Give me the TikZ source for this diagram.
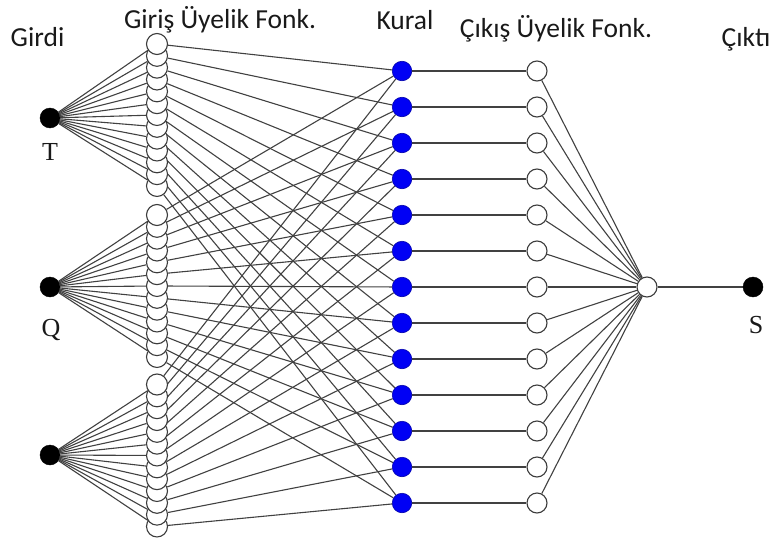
\documentclass[tikz,border=0pt]{standalone}
\usepackage{fontspec}
\setmainfont{Liberation Serif}
\newfontfamily\hdfont{Carlito}
\usetikzlibrary{backgrounds}
\definecolor{linegray}{RGB}{65,65,65}
\definecolor{nodegray}{RGB}{60,60,60}
\definecolor{rblue}{RGB}{0,0,245}
\definecolor{textgray}{RGB}{25,25,25}
\begin{document}
\begin{tikzpicture}[x=1pt,y=-1pt,
  conn/.style={draw=linegray,line width=1.1pt},
  innode/.style={circle,fill=black,draw=black,minimum size=20pt,inner sep=0pt},
  mfnode/.style={circle,fill=white,draw=nodegray,line width=1.1pt,minimum size=21pt,inner sep=0pt},
  rulenode/.style={circle,fill=rblue,draw=rblue!70!black,line width=0.6pt,minimum size=19.5pt,inner sep=0pt},
  outmf/.style={circle,fill=white,draw=nodegray,line width=1.1pt,minimum size=20pt,inner sep=0pt},
  head/.style={anchor=base,font=\hdfont\fontsize{27.5}{30}\selectfont,text=textgray},
  lab/.style={anchor=base,font=\fontsize{26}{30}\selectfont,text=textgray}]
\useasboundingbox (0,0) rectangle (771,538);
% input nodes
\node[innode] (in1) at (50,118) {};
\node[innode] (in2) at (50,287) {};
\node[innode] (in3) at (50,455) {};
% input membership functions
\foreach \g/\y in {1/44,2/215,3/384.5} {
  \foreach \i in {12,11,...,0} {
    \node[mfnode] (mf\g-\i) at (157,{\y+11.83*\i}) {};
  }
}
% rules and output membership functions
\foreach \i in {0,...,12} {
  \node[rulenode] (r\i) at (402,{71+36*\i}) {};
  \node[outmf] (o\i) at (537,{71+36*\i}) {};
}
\node[outmf] (agg) at (647,287) {};
\node[innode] (s) at (753,287) {};
% connectors
\begin{scope}[on background layer]
  \foreach \g in {1,2,3} {
    \foreach \i in {0,...,12} {
      \draw[conn] (in\g) -- (mf\g-\i);
      \draw[conn] (mf\g-\i) -- (r\i);
    }
  }
  \foreach \i in {0,...,12} {
    \draw[conn] (r\i) -- (o\i);
    \draw[conn] (o\i) -- (agg);
  }
  \draw[conn] (agg) -- (s);
\end{scope}
% labels
\node[head] (hgirdi) at (37.5,46) {Girdi};
\node[head] (hgiris) at (220,28) {Giriş Üyelik Fonk.};
\node[head] (hkural) at (405,29) {Kural};
\node[head] (hcikis) at (556,37.5) {Çıkış Üyelik Fonk.};
\node[head] (hcikti) at (746,46) {Çıktı};
\node[lab] (lt) at (50,160) {T};
\node[lab] (lq) at (51,336) {Q};
\node[lab] (ls) at (756,333) {S};
\end{tikzpicture}
\end{document}
